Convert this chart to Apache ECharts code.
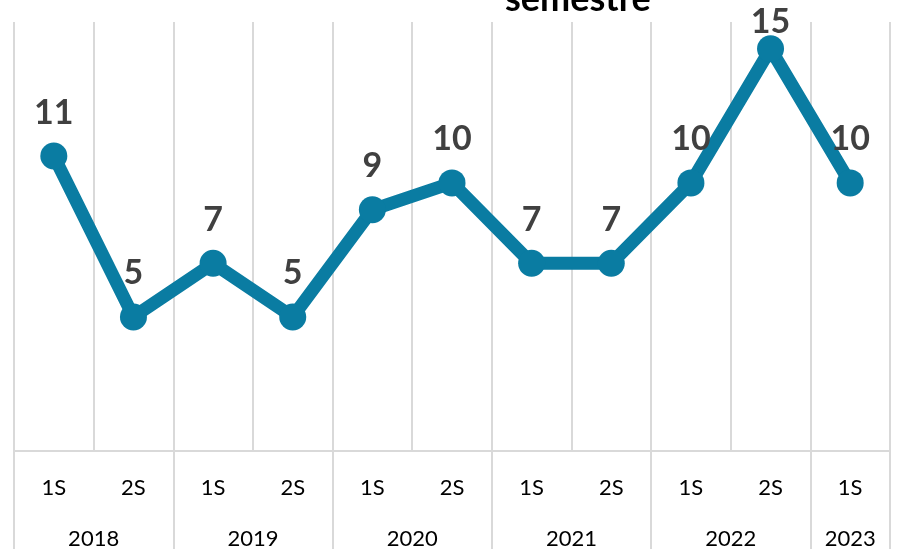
<!DOCTYPE html>
<html><head><meta charset="utf-8">
<script src="https://cdn.jsdelivr.net/npm/echarts@6/dist/echarts.min.js"></script>
<style>html,body{margin:0;padding:0;background:#fff}#c{width:897px;height:550px}</style>
</head><body><div id="c"></div>
<script>
const semesters = ['1S','2S','1S','2S','1S','2S','1S','2S','1S','2S','1S'];
const values = [11, 5, 7, 5, 9, 10, 7, 7, 10, 15, 10];
const years = ['2018','2019','2020','2021','2022','2023'];
const yearSpans = [2, 2, 2, 2, 2, 1]; // semesters per year
const titleText = 'semestre';

// Build half-step category axis for year labels / separators
const halfCats = [];
const boundarySet = new Set([0]);
const labelMap = {};
let pos = 0;
years.forEach((y, i) => {
  const center = pos + yearSpans[i] / 2;
  labelMap[Math.round(center * 2)] = y;
  pos += yearSpans[i];
  boundarySet.add(pos * 2);
});
for (let i = 0; i <= pos * 2; i++) halfCats.push(labelMap[i] || '');

const yMax = 16;
// labels near the top edge are pulled in close to the marker (as the source does)
const seriesData = values.map(v => ({
  value: v,
  label: { distance: v > yMax - 2 ? -4 : 13 }
}));

const chart = echarts.init(document.getElementById('c'));
const font = 'Lato, "Open Sans", sans-serif';
chart.setOption({
  animation: false,
  title: {
    text: titleText, left: 500, top: -24,
    textStyle: { fontFamily: font, fontSize: 36, fontWeight: 'bold', color: '#000' }
  },
  grid: { left: 14, right: 7, top: 22, bottom: 98 },
  xAxis: [{
    type: 'category', data: semesters, boundaryGap: true, position: 'bottom',
    axisLine: { show: true, lineStyle: { color: '#d9d9d9', width: 2 } },
    axisTick: { show: false },
    splitLine: { show: true, lineStyle: { color: '#d9d9d9', width: 2 } },
    axisLabel: { color: '#000', fontFamily: font, fontSize: 22, margin: 26 }
  }, {
    type: 'category', data: halfCats, boundaryGap: false, position: 'bottom',
    axisLine: { show: false },
    axisTick: { show: true, length: 98, interval: (idx) => boundarySet.has(idx), lineStyle: { color: '#d9d9d9', width: 2 } },
    splitLine: { show: false },
    axisLabel: { color: '#000', fontFamily: font, fontSize: 22, margin: 77, interval: (idx, v) => v !== '' }
  }],
  yAxis: { type: 'value', min: 0, max: yMax, show: false, splitLine: { show: false } },
  series: [{
    type: 'line', data: seriesData, xAxisIndex: 0,
    symbol: 'circle', symbolSize: 27,
    lineStyle: { color: '#0a7ca2', width: 13 },
    itemStyle: { color: '#0a7ca2' },
    label: { show: true, position: 'top', distance: 13, color: '#404040', fontFamily: font, fontSize: 34, fontWeight: 'bold' },
    z: 3
  }]
});
</script></body></html>
